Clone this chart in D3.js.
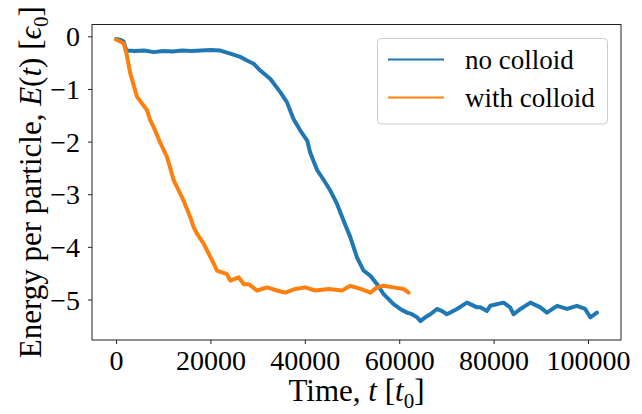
<!DOCTYPE html>
<html>
<head>
<meta charset="utf-8">
<script src="https://cdn.jsdelivr.net/npm/d3@7"></script>
<style>
  body { margin: 0; background: #fff; }
  text { font-family: "Liberation Serif", "DejaVu Serif", serif; fill: #000; }
</style>
</head>
<body>
<script>
// time (t0) and energy per particle
var noColloidT = [0, 1000, 1600, 2200, 4000, 6000, 8000, 10000, 12000, 14000, 16000, 18000, 20000,
  22100, 24200, 26300, 27750, 29150, 30570, 32700, 34800, 36200, 37600, 39050, 40500, 41150,
  42600, 44000, 45400, 46800, 48200, 49650, 51050, 52450, 53900, 55300, 56700, 58800, 60200,
  61650, 62700, 63800, 64500, 65500, 66600, 68000, 69100, 70100, 72250, 74350, 76500, 77200,
  78600, 79300, 82100, 83500, 84250, 85700, 87800, 89900, 91300, 93450, 95550, 97650, 99400,
  100500, 101900];
var noColloidE = [-0.05, -0.07, -0.10, -0.27, -0.28, -0.27, -0.30, -0.28, -0.29, -0.27, -0.28, -0.27, -0.26,
  -0.27, -0.33, -0.39, -0.46, -0.52, -0.65, -0.81, -1.06, -1.25, -1.57, -1.79, -1.98, -2.21,
  -2.54, -2.73, -2.93, -3.18, -3.50, -3.82, -4.20, -4.45, -4.55, -4.71, -4.90, -5.09, -5.18,
  -5.25, -5.28, -5.34, -5.41, -5.34, -5.28, -5.18, -5.22, -5.28, -5.18, -5.06, -5.15, -5.15,
  -5.22, -5.12, -5.06, -5.15, -5.28, -5.18, -5.06, -5.15, -5.25, -5.12, -5.18, -5.12, -5.18,
  -5.34, -5.25];

var withColloidT = [0, 1600, 2200, 3000, 4450, 6550, 7250, 7950, 9400, 10800, 12200, 13600, 14300,
  15750, 16450, 17150, 18550, 19300, 20700, 21400, 23500, 24200, 26000, 27050, 28100, 29900,
  32000, 34100, 35850, 38000, 40100, 42200, 45050, 47900, 49650, 51800, 53900, 55300, 56700,
  58800, 60900, 62000];
var withColloidE = [-0.06, -0.13, -0.32, -0.70, -1.15, -1.40, -1.59, -1.72, -2.03, -2.29, -2.73, -2.99, -3.12,
  -3.44, -3.63, -3.75, -3.94, -4.07, -4.32, -4.45, -4.52, -4.64, -4.58, -4.71, -4.71, -4.83,
  -4.77, -4.83, -4.87, -4.80, -4.77, -4.83, -4.80, -4.83, -4.74, -4.80, -4.87, -4.77, -4.74,
  -4.77, -4.80, -4.87];

var xTicks = [0, 20000, 40000, 60000, 80000, 100000];
var yTicks = [0, -1, -2, -3, -4, -5];
var seriesNames = ["no colloid", "with colloid"];
var seriesColors = ["#1f77b4", "#ff7f0e"];

var W = 642, H = 414;
var mLeft = 92, mRight = 621, mTop = 24.5, mBottom = 340;

var svg = d3.select("body").append("svg")
  .attr("width", W)
  .attr("height", H);

var x = d3.scaleLinear().domain([-5095, 106995]).range([mLeft, mRight]);
var y = d3.scaleLinear().domain([-5.77, 0.225]).range([mBottom, mTop]);

svg.append("defs").append("clipPath")
  .attr("id", "plotclip")
  .append("rect")
  .attr("x", mLeft).attr("y", mTop)
  .attr("width", mRight - mLeft).attr("height", mBottom - mTop);

var line = d3.line()
  .x(function(d) { return x(d[0]); })
  .y(function(d) { return y(d[1]); });

var series = [
  d3.zip(noColloidT, noColloidE),
  d3.zip(withColloidT, withColloidE)
];

var plot = svg.append("g").attr("clip-path", "url(#plotclip)");
series.forEach(function(s, i) {
  plot.append("path")
    .datum(s)
    .attr("d", line)
    .attr("fill", "none")
    .attr("stroke", seriesColors[i])
    .attr("stroke-width", 4)
    .attr("stroke-linejoin", "round")
    .attr("stroke-linecap", "round");
});

// axes
var xAxis = svg.append("g")
  .attr("transform", "translate(0," + mBottom + ")")
  .call(d3.axisBottom(x).tickValues(xTicks).tickFormat(d3.format("d")).tickSizeOuter(0).tickSize(4).tickPadding(6));
var yAxis = svg.append("g")
  .attr("transform", "translate(" + mLeft + ",0)")
  .call(d3.axisLeft(y).tickValues(yTicks).tickFormat(d3.format("d")).tickSizeOuter(0).tickSize(4).tickPadding(8));

[xAxis, yAxis].forEach(function(a) {
  a.select(".domain").remove();
  a.selectAll(".tick line").attr("stroke", "#222").attr("stroke-width", 1);
  a.selectAll(".tick text")
    .style("font-family", "'Liberation Serif', serif")
    .style("font-size", "28px")
    .attr("fill", "#000");
});
xAxis.selectAll(".tick text").attr("dy", "0.72em");
yAxis.selectAll(".tick text").attr("dy", "0.34em");

// frame
svg.append("rect")
  .attr("x", mLeft).attr("y", mTop)
  .attr("width", mRight - mLeft).attr("height", mBottom - mTop)
  .attr("fill", "none")
  .attr("stroke", "#222")
  .attr("stroke-width", 1);

// x label
var xl = svg.append("text")
  .attr("x", (mLeft + mRight) / 2)
  .attr("y", 401)
  .attr("text-anchor", "middle")
  .style("font-size", "31px");
xl.append("tspan").text("Time, ");
xl.append("tspan").style("font-style", "italic").text("t");
xl.append("tspan").text(" [");
xl.append("tspan").style("font-style", "italic").text("t");
xl.append("tspan").attr("dy", 7).style("font-size", "21px").text("0");
xl.append("tspan").attr("dy", -7).text("]");

// y label
var yl = svg.append("text")
  .attr("transform", "translate(41," + ((mTop + mBottom) / 2) + ") rotate(-90)")
  .attr("text-anchor", "middle")
  .style("font-size", "31px");
yl.append("tspan").text("Energy per particle, ");
yl.append("tspan").style("font-style", "italic").text("E");
yl.append("tspan").text("(");
yl.append("tspan").style("font-style", "italic").text("t");
yl.append("tspan").text(") [");
yl.append("tspan").style("font-style", "italic").text("\u03f5");
yl.append("tspan").attr("dy", 7).style("font-size", "21px").text("0");
yl.append("tspan").attr("dy", -7).text("]");

// legend
var lg = svg.append("g");
lg.append("rect")
  .attr("x", 377.5).attr("y", 38.5)
  .attr("width", 230).attr("height", 85.5)
  .attr("rx", 4)
  .attr("fill", "#fff").attr("fill-opacity", 0.8)
  .attr("stroke", "#ccc").attr("stroke-width", 1);
var legendY = d3.scalePoint().domain(seriesNames).range([59.5, 97.5]);
seriesNames.forEach(function(name, i) {
  lg.append("line")
    .attr("x1", 388).attr("x2", 444)
    .attr("y1", legendY(name)).attr("y2", legendY(name))
    .attr("stroke", seriesColors[i])
    .attr("stroke-width", 2);
  lg.append("text")
    .attr("x", 465)
    .attr("y", legendY(name) + 9)
    .style("font-size", "27px")
    .text(name);
});
</script>
</body>
</html>
